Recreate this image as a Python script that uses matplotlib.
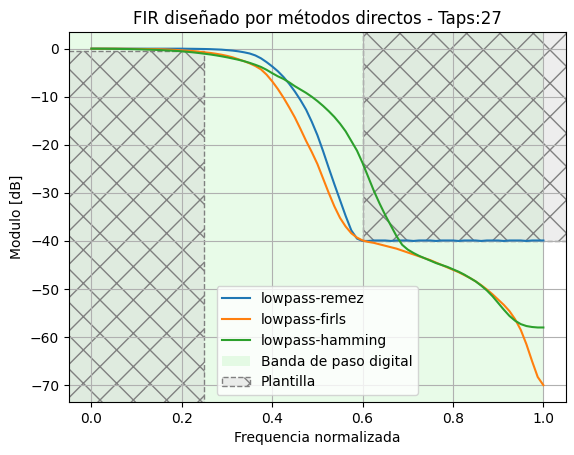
import numpy as np
import matplotlib.pyplot as plt
from matplotlib.patches import Rectangle

# Frequency grid (normalized, 1 = Nyquist) and responses, in dB
freq = np.linspace(0.0, 1.0, 81)

remez_db = [0.0] * 17 + [
    -0.02, -0.03, -0.05, -0.07, -0.1, -0.15, -0.2, -0.3, -0.4, -0.55,
    -0.75, -1.0, -1.4, -2.0, -2.8, -3.7, -4.7, -5.9, -7.3, -8.9,
    -10.7, -12.7, -15.2, -18.0, -21.3, -24.8, -28.2, -31.5, -34.8, -37.8,
    -39.5, -40.0,
    -40.0, -39.9, -39.9, -39.9, -40.0, -39.9, -39.9, -39.9, -40.0, -39.9,
    -39.9, -39.9, -40.0, -39.9, -39.9, -39.9, -40.0, -39.9, -39.9, -39.9,
    -40.0, -39.9, -39.9, -39.9, -40.0, -39.9, -39.9, -39.9, -40.0, -39.9,
    -39.9, -39.9]

firls_db = [
    0.0, 0.0, 0.0, 0.0, 0.0, -0.01, -0.02, -0.03, -0.05, -0.06,
    -0.08, -0.1, -0.12, -0.15, -0.2, -0.27, -0.35,
    -0.42, -0.5, -0.62, -0.75, -0.88, -1.05, -1.25, -1.5, -1.8, -2.2,
    -2.6, -3.05, -3.6, -4.3, -5.4, -6.8, -8.4, -10.2, -12.2, -14.3,
    -16.7, -19.2, -21.5, -24.0, -27.0, -30.0, -32.8, -35.2, -37.0, -38.4,
    -39.3, -39.9, -40.2, -40.4, -40.7, -41.0, -41.3, -41.6, -42.0, -42.4,
    -42.8, -43.2, -43.6, -44.0, -44.5, -45.0, -45.5, -46.0, -46.5, -47.1,
    -47.7, -48.4, -49.2, -50.1, -51.1, -52.2, -53.3, -54.6, -56.3, -58.5,
    -61.5, -65.0, -68.3, -70.0]

hamming_db = [
    0.0, 0.0, -0.01, -0.02, -0.03, -0.05, -0.07, -0.09, -0.12, -0.15,
    -0.19, -0.23, -0.28, -0.34, -0.4, -0.47, -0.55,
    -0.65, -0.77, -0.9, -1.05, -1.2, -1.38, -1.58, -1.8, -2.05, -2.3,
    -2.6, -2.95, -3.35, -3.8, -4.4, -5.1, -5.75, -6.3, -7.0, -7.8,
    -8.5, -9.2, -10.0, -10.9, -11.9, -13.0, -14.2, -15.6, -17.2, -19.2,
    -21.2, -23.8, -26.7, -29.6, -32.2, -34.6, -36.8, -39.0, -40.8, -41.8,
    -42.5, -43.1, -43.6, -44.1, -44.6, -45.0, -45.4, -45.9, -46.4, -47.0,
    -47.7, -48.4, -49.3, -50.3, -51.5, -52.9, -54.3, -55.6, -56.6, -57.3,
    -57.7, -57.9, -58.0, -58.0]

labels = ["lowpass-remez", "lowpass-firls", "lowpass-hamming"]

# Template (plantilla)
fpass = 0.25
fstop = 0.6
ripple = 0.5
atten = 40
fnyq = 1.0

fig, ax = plt.subplots(figsize=(5.74, 4.55))
fig.subplots_adjust(left=0.120, right=0.986, top=0.930, bottom=0.1165)

xlim = (-0.05, 1.05)
ylim = (-73.5, 3.5)

for vals, lab in zip([remez_db, firls_db, hamming_db], labels):
    ax.plot(freq, vals, label=lab, lw=1.5)

# digital passband region
ax.axvspan(xlim[0], fnyq, color='lightgreen', alpha=0.2, lw=0,
           label='Banda de paso digital')

big = 200
tmpl = dict(facecolor=(211/255, 211/255, 211/255, 0.4), edgecolor='gray',
            linestyle='--', hatch='x', lw=1)
ax.add_patch(Rectangle((xlim[0] - 1, -ripple - big), fpass - xlim[0] + 1, big,
                       label='Plantilla', **tmpl))
ax.add_patch(Rectangle((fstop, -atten), big, big, **tmpl))

ax.set_xlim(*xlim)
ax.set_ylim(*ylim)
ax.grid(True)
ax.set_title('FIR diseñado por métodos directos - Taps:27')
ax.set_xlabel('Frequencia normalizada')
ax.set_ylabel('Modulo [dB]')
ax.legend(loc='lower center')

plt.savefig('out.png', dpi=100)
